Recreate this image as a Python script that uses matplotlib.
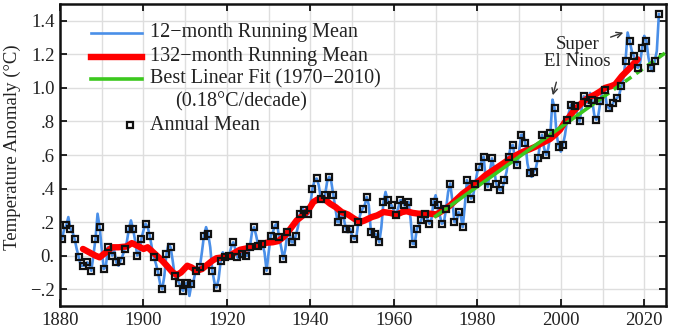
import matplotlib
matplotlib.use('Agg')
import matplotlib.pyplot as plt
import numpy as np

plt.rcParams['font.family'] = ['Liberation Serif', 'DejaVu Serif']

# --------------------------------------------------------------------------
#                         data
# --------------------------------------------------------------------------
years = list(range(1880, 2024))
annual_mean = [
    0.10, 0.18, 0.16, 0.10, -0.01, -0.06, -0.04, -0.09, 0.10, 0.17,   # 1880s
    -0.08, 0.05, 0.00, -0.04, -0.03, 0.04, 0.16, 0.16, 0.00, 0.10,    # 1890s
    0.19, 0.12, -0.01, -0.10, -0.20, 0.01, 0.05, -0.12, -0.16, -0.21,  # 1900s
    -0.16, -0.17, -0.09, -0.07, 0.12, 0.13, -0.09, -0.19, -0.03, -0.01,  # 1910s
    0.00, 0.08, -0.01, 0.01, 0.00, 0.05, 0.17, 0.06, 0.07, -0.09,     # 1920s
    0.12, 0.18, 0.11, -0.02, 0.14, 0.08, 0.12, 0.25, 0.27, 0.25,      # 1930s
    0.40, 0.46, 0.34, 0.36, 0.47, 0.36, 0.20, 0.24, 0.16, 0.16,       # 1940s
    0.10, 0.20, 0.28, 0.35, 0.14, 0.13, 0.08, 0.32, 0.33, 0.30,       # 1950s
    0.24, 0.33, 0.30, 0.32, 0.07, 0.16, 0.21, 0.25, 0.19, 0.32,       # 1960s
    0.30, 0.19, 0.28, 0.43, 0.20, 0.26, 0.17, 0.45, 0.34, 0.43,       # 1970s
    0.53, 0.59, 0.41, 0.58, 0.43, 0.39, 0.45, 0.59, 0.66, 0.54,       # 1980s
    0.72, 0.67, 0.49, 0.50, 0.58, 0.72, 0.60, 0.73, 0.88, 0.65,       # 1990s
    0.66, 0.81, 0.90, 0.89, 0.80, 0.95, 0.91, 0.93, 0.81, 0.92,       # 2000s
    0.99, 0.88, 0.91, 0.94, 1.01, 1.16, 1.28, 1.19, 1.12, 1.24,       # 2010s
    1.28, 1.12, 1.16, 1.44,                                           # 2020s
]

# 12-month running mean at the turn of each year (1881 ... 2023)
jan_years = list(range(1881, 2024))
running_12_jan = [
    0.16, 0.23, 0.14, 0.04, -0.06, -0.06, -0.05, 0.00, 0.25,          # 1881-89
    0.04, -0.06, 0.04, 0.03, -0.06, 0.00, 0.08, 0.21, 0.09, 0.02,     # 1890s
    0.15, 0.17, 0.05, -0.05, -0.17, -0.12, 0.07, -0.03, -0.14, -0.19,  # 1900s
    -0.17, -0.24, -0.15, -0.10, 0.02, 0.17, 0.05, -0.16, -0.14, 0.02,  # 1910s
    -0.02, 0.05, 0.04, -0.02, 0.03, 0.00, 0.14, 0.12, 0.04, 0.02,     # 1920s
    0.02, 0.14, 0.19, 0.05, 0.04, 0.13, 0.08, 0.17, 0.28, 0.24,       # 1930s
    0.31, 0.45, 0.42, 0.32, 0.44, 0.44, 0.28, 0.20, 0.22, 0.14,       # 1940s
    0.12, 0.11, 0.25, 0.30, 0.30, 0.12, 0.12, 0.17, 0.38, 0.30,       # 1950s
    0.27, 0.28, 0.33, 0.30, 0.22, 0.07, 0.18, 0.24, 0.22, 0.22,       # 1960s
    0.36, 0.24, 0.20, 0.38, 0.33, 0.20, 0.24, 0.30, 0.40, 0.36,       # 1970s
    0.50, 0.56, 0.46, 0.50, 0.52, 0.40, 0.40, 0.50, 0.65, 0.58,       # 1980s
    0.62, 0.72, 0.55, 0.47, 0.52, 0.66, 0.64, 0.64, 0.93, 0.72,       # 1990s
    0.62, 0.72, 0.86, 0.90, 0.84, 0.88, 0.92, 0.97, 0.84, 0.84,       # 2000s
    1.00, 0.90, 0.87, 0.93, 0.96, 1.06, 1.33, 1.22, 1.13, 1.15,       # 2010s
    1.31, 1.18, 1.10, 1.22,                                           # 2020s
]

# 132-month running mean
run132_years = [1885.5, 1887, 1888.5, 1889.5, 1891, 1892.5, 1894, 1896, 1897.2, 1898.5,
                1900, 1901, 1903.2, 1904.5, 1905.6, 1907, 1908, 1909, 1910.5, 1911.5,
                1912.7, 1914, 1915, 1916.5, 1917.5, 1919, 1920.7, 1922, 1923.1, 1925,
                1926.3, 1928, 1929.5, 1931, 1932.3, 1933.5, 1934.3, 1935.5, 1936.7, 1937.7,
                1938.7, 1939.7, 1940.7, 1941.7, 1942.7, 1943.7, 1944.7, 1946, 1947.5, 1949,
                1950.5, 1951.9, 1953, 1954.7, 1956, 1957.5, 1959, 1960.7, 1962, 1963,
                1964.5, 1966, 1968, 1970.2, 1972.2, 1973.5, 1975, 1976.5, 1978.2, 1979.5,
                1980.6, 1982, 1983.8, 1985, 1986.2, 1988, 1989.4, 1991, 1992.6, 1994,
                1995, 1996.2, 1997.4, 1998.6, 1999.8, 2000.8, 2001.8, 2003, 2005, 2006.5,
                2008.2, 2009.5, 2010.6, 2012, 2013, 2014.6, 2016.2, 2017.3, 2018.4]
run132_vals = [0.04, 0.02, 0.00, -0.01, 0.02, 0.05, 0.05, 0.055, 0.075, 0.06,
               0.04, 0.05, 0.00, -0.03, -0.06, -0.10, -0.115, -0.10, -0.06, -0.07,
               -0.09, -0.08, -0.06, -0.03, -0.015, -0.01, 0.00, 0.02, 0.035, 0.045,
               0.055, 0.065, 0.077, 0.08, 0.087, 0.11, 0.13, 0.17, 0.21, 0.23,
               0.25, 0.28, 0.32, 0.335, 0.345, 0.33, 0.31, 0.29, 0.26, 0.245,
               0.22, 0.20, 0.21, 0.23, 0.24, 0.26, 0.255, 0.245, 0.26, 0.265,
               0.255, 0.25, 0.252, 0.246, 0.276, 0.30, 0.335, 0.37, 0.40, 0.43,
               0.45, 0.48, 0.51, 0.53, 0.55, 0.58, 0.60, 0.62, 0.635, 0.65,
               0.665, 0.68, 0.695, 0.72, 0.75, 0.79, 0.82, 0.86, 0.91, 0.94,
               0.96, 0.98, 1.00, 1.01, 1.02, 1.07, 1.11, 1.14, 1.17]

# best linear fit 1970-2010 and its extension
fit_years = [1970, 2010]
fit_vals = [0.235, 0.943]
ext_years = [2010, 2025.5]
ext_vals = [0.943, 1.217]

x_ticks = [1880, 1900, 1920, 1940, 1960, 1980, 2000, 2020]
y_ticks = [-0.2, 0.0, 0.2, 0.4, 0.6, 0.8, 1.0, 1.2, 1.4]
y_ticklabels = ['\u2212.2', '0.', '.2', '.4', '.6', '.8', '1.0', '1.2', '1.4']

# --------------------------------------------------------------------------
#                                 figure
# --------------------------------------------------------------------------
BLUE = '#4a8fe8'
RED = '#ff0000'
GREEN = '#3cc81e'
TXT = '#222222'

fig = plt.figure(figsize=(6.74, 3.29), dpi=100)
ax = fig.add_axes([60 / 674, 23 / 329, 606 / 674, 302 / 329])

# 12-month running mean: annual values at mid-year, running values at year turn
blue_t = [y + 0.5 for y in years] + jan_years
blue_v = annual_mean + running_12_jan
order = np.argsort(blue_t)
ax.plot(np.array(blue_t)[order], np.array(blue_v)[order], color=BLUE, lw=1.9,
        solid_joinstyle='round', zorder=2)

ax.plot(run132_years, run132_vals, color=RED, lw=4.6, solid_capstyle='round',
        solid_joinstyle='round', zorder=3)
ax.plot(fit_years, fit_vals, color=GREEN, lw=2.6, zorder=4)
ax.plot(ext_years, ext_vals, color=GREEN, lw=2.6, ls=(0, (2.2, 1.6)), zorder=4)

ax.plot([y + 0.5 for y in years], annual_mean, ls='none', marker='s', ms=4.8,
        mfc='none', mec='#111111', mew=1.6, zorder=5)

ax.set_xlim(1880, 2025.2)
ax.set_ylim(-0.3, 1.5)
ax.set_xticks(x_ticks)
ax.set_yticks(y_ticks)
ax.set_yticklabels(y_ticklabels)
ax.set_xticks(np.arange(1890, 2025, 10), minor=True)
ax.grid(True, which='both', axis='x', color='#dedede', lw=1.0, zorder=0)
ax.grid(True, which='major', axis='y', color='#dedede', lw=1.0, zorder=0)
ax.tick_params(which='major', direction='in', top=True, right=True, length=5,
               width=1.2, labelsize=13.5, labelcolor=TXT, pad=4)
ax.tick_params(which='minor', length=0)
for s in ax.spines.values():
    s.set_linewidth(1.8)
    s.set_color('#111111')

fig.text(12 / 674, 1 - 147 / 329, 'Temperature Anomaly (\u00b0C)', rotation=90,
         ha='center', va='center', fontsize=13.5, color=TXT)

# legend drawn by hand
tr = ax.transAxes
def fx(px):
    return (px - 60) / 606
def fy(py):
    return (306 - py) / 302

ax.plot([fx(91), fx(142)], [fy(33), fy(33)], color=BLUE, lw=1.9, transform=tr)
ax.plot([fx(91), fx(142)], [fy(57), fy(57)], color=RED, lw=4.6, transform=tr)
ax.plot([fx(91), fx(142)], [fy(79), fy(79)], color=GREEN, lw=2.6, transform=tr)
ax.plot([fx(130)], [fy(125)], ls='none', marker='s', ms=4.8, mfc='none',
        mec='#111111', mew=1.6, transform=tr)
legend_rows = [(150, 33, '12\u2212month Running Mean'),
               (150, 57, '132\u2212month Running Mean'),
               (150, 79, 'Best Linear Fit (1970\u22122010)'),
               (175, 102, '(0.18\u00b0C/decade)'),
               (150, 125, 'Annual Mean')]
for px, py, label in legend_rows:
    ax.text(fx(px), fy(py), label, transform=tr, ha='left', va='center',
            fontsize=14.5, color=TXT)

# Super El Nino annotation
ax.text(2004, 1.21, 'Super\nEl Ninos', ha='center', va='center', fontsize=13.5,
        color=TXT, linespacing=1.0)
arrow = dict(arrowstyle='->', color='#333333', lw=1.0, mutation_scale=10)
ax.annotate('', xy=(2015.6, 1.335), xytext=(2011.3, 1.297), arrowprops=arrow)
ax.annotate('', xy=(1997.9, 0.94), xytext=(1999.1, 1.05), arrowprops=arrow)

fig.savefig('out.png', dpi=100)
